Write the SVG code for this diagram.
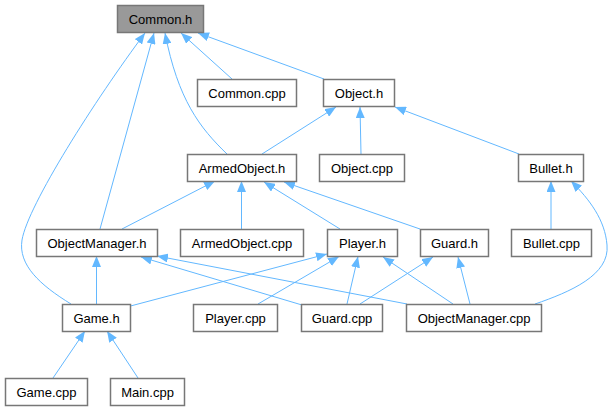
<svg xmlns="http://www.w3.org/2000/svg" width="614" height="411" viewBox="0 0 614 411">
<style>
.n rect{fill:#ffffff;stroke:#777777;stroke-width:1.5}
.root rect{fill:#999999;stroke:#777777;stroke-width:1.5}
.n text{font-family:"Liberation Sans",Arial,sans-serif;font-size:13px;fill:#000000;text-anchor:middle}
#edges path{fill:none;stroke:#63b8ff;stroke-width:1;marker-end:url(#ah)}
</style>
<defs>
<marker id="ah" viewBox="0 0 11 9" refX="11" refY="4.5" markerWidth="11" markerHeight="9" markerUnits="userSpaceOnUse" orient="auto">
<path d="M0,0 L11,4.5 L0,9 z" fill="#63b8ff" stroke="none"/>
</marker>
</defs>
<rect width="614" height="411" fill="#ffffff"/>
<g id="edges">
<path d="M232,79 L181,33"/>
<path d="M324,79 L198,33"/>
<path d="M227,154 C200,128 178,100 165,33"/>
<path d="M100,229 L154,33"/>
<path d="M71,304 C40,285 18,265 22,240 C28,205 95,100 145,33"/>
<path d="M262,154 L336,107"/>
<path d="M361,154 L360,107"/>
<path d="M519,154 L395,107"/>
<path d="M122,229 L215,181"/>
<path d="M241.5,229 L241.5,181"/>
<path d="M340,229 L264,182"/>
<path d="M420,229 L284,182"/>
<path d="M551,229 L551,181"/>
<path d="M535,304 C570,292 610,275 607,245 C605,220 590,200 571,181"/>
<path d="M96.5,304 L96.5,256"/>
<path d="M302,305 L141,257"/>
<path d="M407,304 L157,256"/>
<path d="M130.5,306 L327,254"/>
<path d="M258,304 L339,256.5"/>
<path d="M347,304 L358,256.5"/>
<path d="M453,304 L383,257"/>
<path d="M360,304 L433,257"/>
<path d="M470,304 L458,257"/>
<path d="M53,378 L85,331"/>
<path d="M138,378 L107,331"/>
</g>
<g id="common_h" class="n root"><rect x="117.5" y="5.5" width="86" height="27"/><text x="160.5" y="23.5">Common.h</text></g>
<g id="common_cpp" class="n"><rect x="197.5" y="79.5" width="99" height="27"/><text x="247" y="97.5">Common.cpp</text></g>
<g id="object_h" class="n"><rect x="323.5" y="79.5" width="71" height="27"/><text x="359" y="97.5">Object.h</text></g>
<g id="armedobject_h" class="n"><rect x="187.5" y="154.5" width="109" height="27"/><text x="242" y="172.5">ArmedObject.h</text></g>
<g id="object_cpp" class="n"><rect x="319.5" y="154.5" width="85" height="27"/><text x="362" y="172.5">Object.cpp</text></g>
<g id="bullet_h" class="n"><rect x="518.5" y="154.5" width="65" height="27"/><text x="551" y="172.5">Bullet.h</text></g>
<g id="objectmanager_h" class="n"><rect x="36.5" y="229.5" width="121" height="27"/><text x="97" y="247.5">ObjectManager.h</text></g>
<g id="armedobject_cpp" class="n"><rect x="180.5" y="229.5" width="123" height="27"/><text x="242" y="247.5">ArmedObject.cpp</text></g>
<g id="player_h" class="n"><rect x="327.5" y="229.5" width="70" height="27"/><text x="362.5" y="247.5">Player.h</text></g>
<g id="guard_h" class="n"><rect x="420.5" y="229.5" width="68" height="27"/><text x="454.5" y="247.5">Guard.h</text></g>
<g id="bullet_cpp" class="n"><rect x="511.5" y="229.5" width="80" height="27"/><text x="551.5" y="247.5">Bullet.cpp</text></g>
<g id="game_h" class="n"><rect x="62.5" y="304.5" width="68" height="27"/><text x="96.5" y="322.5">Game.h</text></g>
<g id="player_cpp" class="n"><rect x="193.5" y="304.5" width="84" height="27"/><text x="235.5" y="322.5">Player.cpp</text></g>
<g id="guard_cpp" class="n"><rect x="301.5" y="304.5" width="81" height="27"/><text x="342" y="322.5">Guard.cpp</text></g>
<g id="objectmanager_cpp" class="n"><rect x="406.5" y="304.5" width="135" height="27"/><text x="474" y="322.5">ObjectManager.cpp</text></g>
<g id="game_cpp" class="n"><rect x="5.5" y="378.5" width="82" height="27"/><text x="46.5" y="396.5">Game.cpp</text></g>
<g id="main_cpp" class="n"><rect x="110.5" y="378.5" width="74" height="27"/><text x="147.5" y="396.5">Main.cpp</text></g>
</svg>
